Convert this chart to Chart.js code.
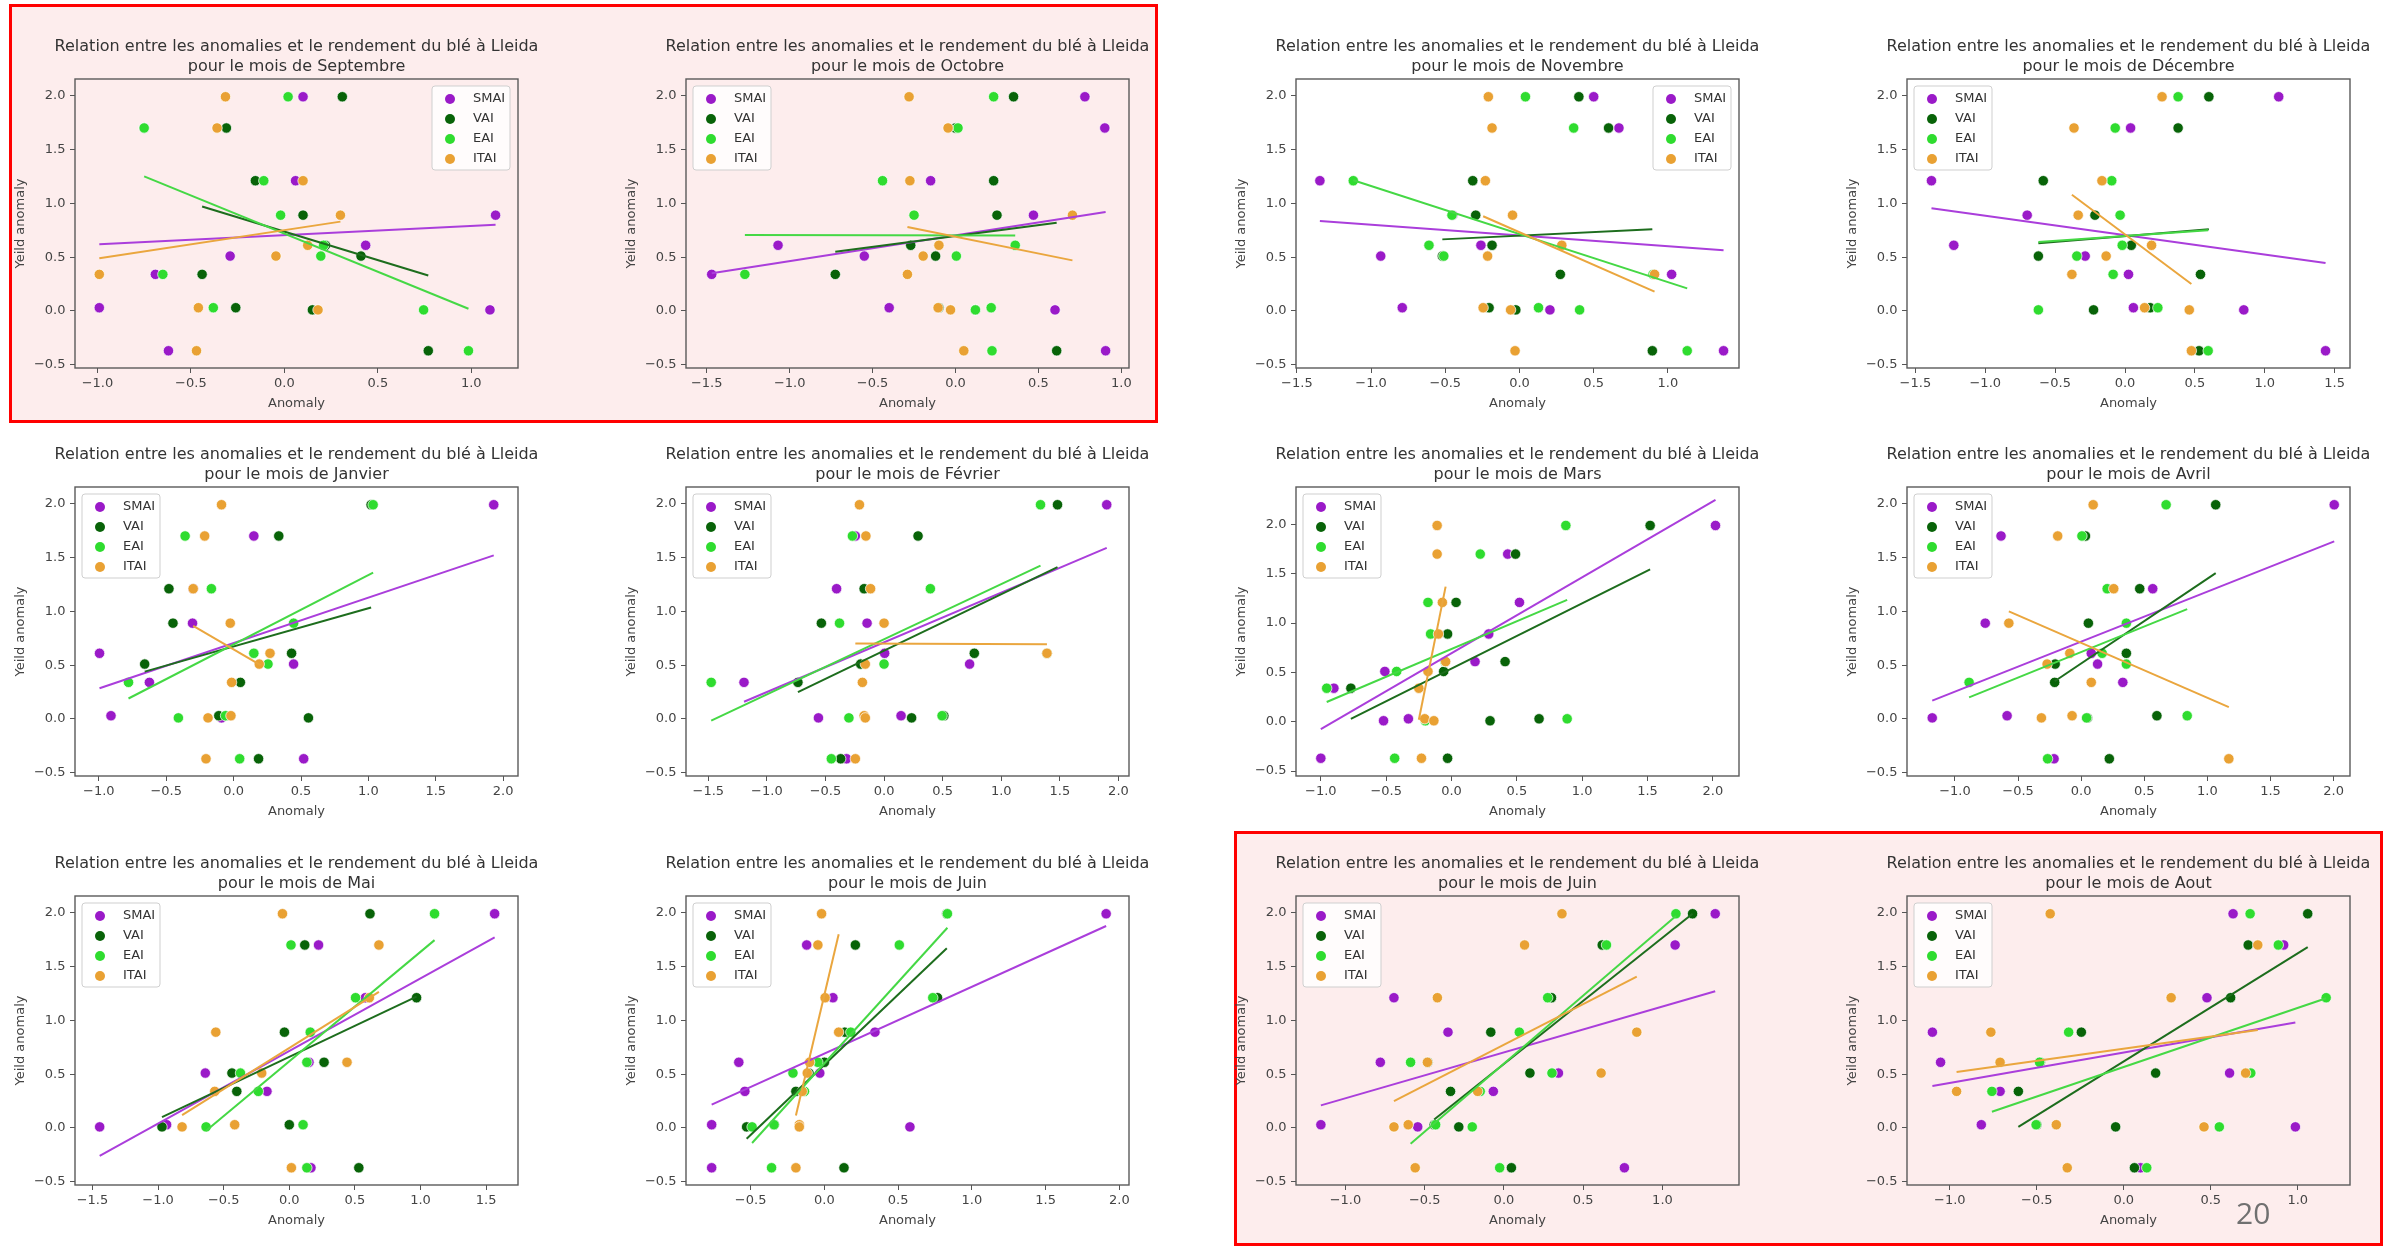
<!DOCTYPE html>
<html>
<head>
<meta charset="utf-8">
<script src="https://cdn.jsdelivr.net/npm/chart.js@4.4.1/dist/chart.umd.min.js"></script>
<style>
  body { margin: 0; width: 2387px; height: 1246px; background: #fff; position: relative; overflow: hidden; }
  .zone { position: absolute; background: #fdeded; border: 3px solid #ff0000; box-sizing: border-box; }
  .plot { position: absolute; width: 593px; height: 394px; }
  #page { position: absolute; left: 2236px; top: 1198px; font: 30px "Open Sans", sans-serif; line-height: 30px; color: #707070; }
</style>
</head>
<body>
<div class="zone" style="left:9px;top:4px;width:1149px;height:419px"></div>
<div class="zone" style="left:1234px;top:831px;width:1149px;height:415px"></div>
<div id="page">20</div>

<script>
const titleLine = 'Relation entre les anomalies et le rendement du blé à Lleida';
const months = ['Septembre', 'Octobre', 'Novembre', 'Décembre', 'Janvier', 'Février',
                'Mars', 'Avril', 'Mai', 'Juin', 'Juin', 'Aout'];
const seriesNames = ['SMAI', 'VAI', 'EAI', 'ITAI'];

// yield anomaly of each year (same for every index)
const yields = [1.99, 1.70, 1.21, 0.89, 0.61, 0.51, 0.34, 0.03, 0.01, -0.37];

// anomaly of each index, one row per month, in the order of yields
const smaiX = [
  [0.10, -0.75, 0.06, 1.13, 0.435, -0.29, -0.69, -0.99, 1.10, -0.62],
  [0.78, 0.90, -0.15, 0.47, -1.07, -0.55, -1.47, -0.40, 0.60, 0.905],
  [0.50, 0.67, -1.345, -0.45, -0.26, -0.935, 1.025, -0.79, 0.205, 1.375],
  [1.10, 0.04, -1.385, -0.70, -1.225, -0.285, 0.025, 0.06, 0.85, 1.435],
  [1.93, 0.15, -0.30, -0.305, -0.995, 0.445, -0.625, -0.91, -0.09, 0.52],
  [1.90, -0.245, -0.405, -0.145, 0.005, 0.73, -1.195, 0.145, -0.56, -0.32],
  [2.02, 0.43, 0.52, 0.285, 0.18, -0.51, -0.90, -0.33, -0.52, -1.00],
  [2.005, -0.635, 0.567, -0.76, 0.08, 0.13, 0.33, -0.587, -1.18, -0.215],
  [1.565, 0.223, 0.58, 0.16, 0.15, -0.64, -0.17, -0.935, -1.445, 0.165],
  [1.91, -0.12, 0.058, 0.343, -0.58, -0.031, -0.539, -0.764, 0.58, -0.764],
  [1.333, 1.08, -0.694, -0.353, -0.78, 0.344, -0.067, -1.155, -0.544, 0.76],
  [0.628, 0.919, 0.478, -1.10, -1.053, 0.608, -0.711, -0.819, 0.986, 0.096]
];
const vaiX = [
  [0.31, -0.31, -0.155, 0.10, 0.22, 0.41, -0.44, -0.26, 0.15, 0.77],
  [0.35, 0.0, 0.23, 0.25, -0.27, -0.12, -0.725, -0.10, 0.12, 0.61],
  [0.40, 0.60, -0.315, -0.295, -0.185, -0.52, 0.275, -0.205, -0.025, 0.895],
  [0.60, 0.38, -0.585, -0.215, 0.045, -0.62, 0.54, 0.18, -0.225, 0.53],
  [1.02, 0.335, -0.48, -0.45, 0.43, -0.66, 0.05, -0.11, 0.555, 0.185],
  [1.48, 0.29, -0.17, -0.535, 0.77, -0.20, -0.735, 0.51, 0.235, -0.37],
  [1.52, 0.49, 0.035, -0.03, 0.41, -0.06, -0.77, 0.67, 0.295, -0.03],
  [1.066, 0.034, 0.464, 0.057, 0.358, -0.206, -0.21, 0.60, 0.05, 0.223],
  [0.615, 0.118, 0.97, -0.037, 0.265, -0.437, -0.40, 0.0, -0.97, 0.53],
  [0.83, 0.21, 0.767, 0.138, 0.0, -0.104, -0.193, -0.34, -0.527, 0.133],
  [1.19, 0.62, 0.30, -0.083, -0.48, 0.164, -0.337, -0.44, -0.285, 0.047],
  [1.057, 0.715, 0.614, -0.244, -0.48, 0.183, -0.606, -0.5, -0.047, 0.061]
];
const eaiX = [
  [0.02, -0.75, -0.11, -0.02, 0.21, 0.195, -0.65, -0.38, 0.745, 0.985],
  [0.23, 0.015, -0.44, -0.25, 0.36, 0.005, -1.27, 0.215, 0.12, 0.22],
  [0.04, 0.365, -1.12, -0.455, -0.61, -0.51, 0.90, 0.128, 0.405, 1.13],
  [0.38, -0.07, -0.095, -0.035, -0.02, -0.345, -0.085, 0.235, -0.62, 0.595],
  [1.035, -0.36, -0.165, 0.445, 0.15, 0.255, -0.78, -0.06, -0.41, 0.045],
  [1.335, -0.27, 0.395, -0.38, 1.39, 0.0, -1.475, 0.495, -0.30, -0.45],
  [0.875, 0.22, -0.18, -0.16, -0.05, -0.42, -0.955, 0.885, -0.20, -0.435],
  [0.673, 0.006, 0.206, 0.358, 0.166, 0.358, -0.888, 0.84, 0.043, -0.266],
  [1.107, 0.013, 0.505, 0.16, 0.134, -0.372, -0.236, 0.105, -0.634, 0.134],
  [0.834, 0.508, 0.735, 0.179, -0.044, -0.213, -0.135, -0.341, -0.49, -0.358],
  [1.085, 0.647, 0.276, 0.097, -0.589, 0.303, -0.15, -0.431, -0.20, -0.027],
  [0.726, 0.888, 1.163, -0.317, -0.484, 0.73, -0.758, -0.504, 0.549, 0.132]
];
const itaiX = [
  [-0.315, -0.36, 0.10, 0.30, 0.125, -0.045, -0.99, -0.46, 0.18, -0.47],
  [-0.28, -0.045, -0.275, 0.705, -0.10, -0.195, -0.29, -0.105, -0.03, 0.05],
  [-0.21, -0.185, -0.23, -0.047, 0.285, -0.215, 0.91, -0.245, -0.06, -0.03],
  [0.265, -0.365, -0.165, -0.335, 0.19, -0.135, -0.38, 0.14, 0.46, 0.475],
  [-0.09, -0.215, -0.30, -0.025, 0.27, 0.19, -0.015, -0.02, -0.19, -0.205],
  [-0.21, -0.155, -0.115, 0.0, 1.39, -0.16, -0.185, -0.17, -0.16, -0.245],
  [-0.11, -0.11, -0.07, -0.10, -0.045, -0.18, -0.25, -0.205, -0.135, -0.23],
  [0.095, -0.186, 0.258, -0.573, -0.09, -0.27, 0.08, -0.072, -0.315, 1.17],
  [-0.052, 0.683, 0.61, -0.56, 0.44, -0.21, -0.568, -0.416, -0.817, 0.016],
  [-0.019, -0.044, 0.005, 0.097, -0.10, -0.116, -0.15, -0.17, -0.17, -0.193],
  [0.366, 0.13, -0.42, 0.838, -0.483, 0.613, -0.166, -0.604, -0.694, -0.56],
  [-0.423, 0.77, 0.272, -0.764, -0.711, 0.70, -0.961, -0.388, 0.461, -0.325]
];

// regression line ends: [x0, y0, x1, y1]
const smaiFit = [
  [-0.99, 0.62, 1.13, 0.80], [-1.47, 0.35, 0.905, 0.92], [-1.345, 0.835, 1.375, 0.565],
  [-1.385, 0.955, 1.435, 0.445], [-0.995, 0.285, 1.93, 1.52], [-1.195, 0.16, 1.90, 1.59],
  [-1.00, -0.075, 2.02, 2.25], [-1.18, 0.17, 2.005, 1.65], [-1.445, -0.26, 1.565, 1.77],
  [-0.764, 0.217, 1.91, 1.876], [-1.155, 0.21, 1.333, 1.27], [-1.10, 0.39, 0.986, 0.98]
];
const vaiFit = [
  [-0.44, 0.97, 0.77, 0.33], [-0.725, 0.55, 0.61, 0.82], [-0.52, 0.665, 0.895, 0.76],
  [-0.62, 0.63, 0.60, 0.76], [-0.66, 0.44, 1.02, 1.035], [-0.735, 0.25, 1.48, 1.41],
  [-0.77, 0.03, 1.52, 1.545], [-0.21, 0.35, 1.066, 1.355], [-0.97, 0.10, 0.97, 1.22],
  [-0.527, -0.10, 0.83, 1.67], [-0.44, 0.078, 1.19, 1.99], [-0.606, 0.01, 1.057, 1.68]
];
const eaiFit = [
  [-0.75, 1.25, 0.985, 0.02], [-1.27, 0.705, 0.36, 0.70], [-1.12, 1.215, 1.13, 0.21],
  [-0.62, 0.64, 0.595, 0.75], [-0.78, 0.19, 1.035, 1.36], [-1.475, -0.015, 1.335, 1.425],
  [-0.955, 0.20, 0.885, 1.235], [-0.888, 0.20, 0.84, 1.02], [-0.634, -0.025, 1.107, 1.745],
  [-0.49, -0.14, 0.834, 1.86], [-0.589, -0.146, 1.085, 1.97], [-0.758, 0.15, 1.163, 1.205]
];
const itaiFit = [
  [-0.99, 0.49, 0.30, 0.83], [-0.29, 0.78, 0.705, 0.47], [-0.245, 0.88, 0.91, 0.18],
  [-0.38, 1.08, 0.475, 0.25], [-0.30, 0.865, 0.20, 0.50], [-0.245, 0.70, 1.39, 0.695],
  [-0.25, 0.02, -0.045, 1.37], [-0.573, 1.0, 1.17, 0.11], [-0.817, 0.12, 0.683, 1.265],
  [-0.193, 0.115, 0.097, 1.80], [-0.694, 0.25, 0.838, 1.405], [-0.961, 0.52, 0.77, 0.91]
];

// axis ranges per plot
const xRanges = [
  [-1.12, 1.25], [-1.625, 1.046], [-1.506, 1.479], [-1.56, 1.61],
  [-1.177, 2.11], [-1.69, 2.09], [-1.19, 2.20], [-1.38, 2.13],
  [-1.633, 1.743], [-0.938, 2.065], [-1.312, 1.483], [-1.246, 1.30]
];
const yRanges = [
  [-0.53, 2.155], [-0.53, 2.155], [-0.53, 2.155], [-0.53, 2.155],
  [-0.53, 2.155], [-0.53, 2.155], [-0.55, 2.38], [-0.53, 2.155],
  [-0.53, 2.155], [-0.53, 2.155], [-0.53, 2.155], [-0.53, 2.155]
];

// layout and style
const legendSide = ['right', 'left', 'right', 'left', 'left', 'left',
                    'left', 'left', 'left', 'left', 'left', 'left'];
const colLeft = [75, 686, 1296, 1907];
const rowTop = [79, 487, 896];
const dotColors = ['#9a1ac8', '#086308', '#2fdc2f', '#e9a133'];
const lineColors = ['#aa3edb', '#1d6d1d', '#45d845', '#eaa63e'];
const xs = [smaiX, vaiX, eaiX, itaiX];
const fits = [smaiFit, vaiFit, eaiFit, itaiFit];

Chart.defaults.font.family = '"DejaVu Sans", sans-serif';
Chart.defaults.color = '#444';

function fmt(v) {
  let r = Math.round(v * 10) / 10;
  return (r < 0 ? '\u2212' : '') + Math.abs(r).toFixed(1);
}

const framePlugin = {
  id: 'frame',
  afterDatasetsDraw(chart) {
    let a = chart.chartArea, ctx = chart.ctx;
    ctx.save();
    ctx.strokeStyle = '#5a5a5a';
    ctx.lineWidth = 1.4;
    ctx.strokeRect(a.left, a.top, a.right - a.left, a.bottom - a.top);
    ctx.restore();
  }
};

const legendPlugin = {
  id: 'insideLegend',
  afterDraw(chart, args, opts) {
    let a = chart.chartArea, ctx = chart.ctx;
    let w = 78, h = 84;
    let x = opts.side === 'right' ? a.right - 8 - w : a.left + 7;
    let y = a.top + 7;
    ctx.save();
    ctx.fillStyle = 'rgba(255,255,255,0.8)';
    ctx.strokeStyle = '#cfcfcf';
    ctx.lineWidth = 1;
    ctx.beginPath();
    ctx.roundRect(x, y, w, h, 3);
    ctx.fill();
    ctx.stroke();
    ctx.font = '13px "DejaVu Sans"';
    ctx.textBaseline = 'middle';
    chart.data.datasets.filter(d => !d.showLine).forEach((d, k) => {
      let cy = y + 13 + k * 20;
      ctx.beginPath();
      ctx.arc(x + 18, cy, 5, 0, Math.PI * 2);
      ctx.fillStyle = d.backgroundColor;
      ctx.fill();
      ctx.fillStyle = '#333';
      ctx.fillText(d.label, x + 41, cy);
    });
    ctx.restore();
  }
};

function makeChart(i) {
  let box = document.createElement('div');
  box.className = 'plot';
  box.style.left = (colLeft[i % 4] - 75) + 'px';
  box.style.top = (rowTop[Math.floor(i / 4)] - 55) + 'px';
  let canvas = document.createElement('canvas');
  canvas.width = 593;
  canvas.height = 394;
  box.appendChild(canvas);
  document.body.insertBefore(box, document.getElementById('page'));

  let datasets = [];
  seriesNames.forEach((name, s) => {
    datasets.push({
      label: name,
      data: xs[s][i].map((x, k) => ({ x: x, y: yields[k] })),
      backgroundColor: dotColors[s],
      borderColor: 'rgba(255,255,255,0.9)',
      borderWidth: 0.8,
      pointRadius: 5.2,
      order: 10 - s
    });
  });
  seriesNames.forEach((name, s) => {
    let f = fits[s][i];
    datasets.push({
      label: name + ' fit',
      data: [{ x: f[0], y: f[1] }, { x: f[2], y: f[3] }],
      showLine: true,
      borderColor: lineColors[s],
      borderWidth: 2,
      pointRadius: 0,
      fill: false,
      order: 4 - s
    });
  });

  new Chart(canvas.getContext('2d'), {
    type: 'scatter',
    data: { datasets: datasets },
    options: {
      responsive: false,
      animation: false,
      events: [],
      devicePixelRatio: 1,
      layout: { padding: { left: 4, right: 4, top: 0, bottom: 0 } },
      scales: {
        x: {
          type: 'linear',
          min: xRanges[i][0],
          max: xRanges[i][1],
          ticks: { stepSize: 0.5, includeBounds: false, autoSkip: false, maxRotation: 0,
                   callback: fmt, color: '#444', font: { size: 13 }, padding: 3 },
          grid: { drawOnChartArea: false, drawTicks: true, tickLength: 5, tickColor: '#555' },
          border: { display: false },
          title: { display: true, text: 'Anomaly', color: '#444', font: { size: 13 },
                   padding: { top: 0, bottom: 7 } },
          afterFit: s => { s.height = 50; }
        },
        y: {
          type: 'linear',
          position: 'left',
          min: yRanges[i][0],
          max: yRanges[i][1],
          ticks: { stepSize: 0.5, includeBounds: false, autoSkip: false,
                   callback: fmt, color: '#444', font: { size: 13 }, padding: 4.5 },
          grid: { drawOnChartArea: false, drawTicks: true, tickLength: 5, tickColor: '#555' },
          border: { display: false },
          title: { display: true, text: 'Yeild anomaly', color: '#444', font: { size: 13 },
                   padding: { top: 9, bottom: 0 } },
          afterFit: s => { s.width = 71; }
        },
        yRight: {
          type: 'linear',
          position: 'right',
          ticks: { display: false },
          grid: { display: false },
          border: { display: false },
          afterFit: s => { s.width = 71; }
        }
      },
      plugins: {
        legend: { display: false },
        tooltip: { enabled: false },
        title: {
          display: true,
          text: [titleLine, 'pour le mois de ' + months[i]],
          color: '#333',
          font: { size: 16, weight: 'normal', lineHeight: 1.25 },
          padding: { top: 13, bottom: 2 }
        },
        insideLegend: { side: legendSide[i] }
      }
    },
    plugins: [framePlugin, legendPlugin]
  });
}

for (let i = 0; i < 12; i++) makeChart(i);
</script>
</body>
</html>
